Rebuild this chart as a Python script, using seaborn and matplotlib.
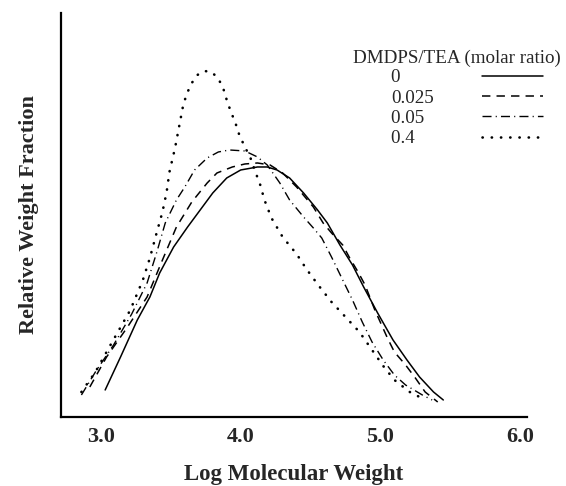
import matplotlib
matplotlib.use("Agg")
import matplotlib.pyplot as plt
import seaborn as sns
import pandas as pd

# ── dati (asse y in unità relative, senza scala) ───────────────────────────
ratio_labels = ["0", "0.025", "0.05", "0.4"]
legend_title = "DMDPS/TEA (molar ratio)"

logmw_0 = [3.03, 3.14, 3.26, 3.35, 3.42, 3.52, 3.62, 3.71, 3.80, 3.90, 4.00,
           4.12, 4.19, 4.26, 4.35, 4.45, 4.55, 4.62, 4.71, 4.80, 4.88, 4.98,
           5.09, 5.19, 5.28, 5.38, 5.45]
wf_0 = [0.27, 0.60, 0.97, 1.20, 1.44, 1.70, 1.90, 2.07, 2.24, 2.39, 2.47,
        2.50, 2.50, 2.47, 2.39, 2.24, 2.07, 1.94, 1.72, 1.52, 1.30, 1.04,
        0.77, 0.57, 0.40, 0.25, 0.17]

logmw_0025 = [2.92, 3.04, 3.19, 3.33, 3.44, 3.54, 3.65, 3.76, 3.83, 3.94,
              4.03, 4.12, 4.21, 4.30, 4.40, 4.52, 4.59, 4.65, 4.73, 4.78,
              4.84, 4.89, 4.96, 5.05, 5.10, 5.18, 5.25, 5.32, 5.41]
wf_0025 = [0.30, 0.60, 0.90, 1.20, 1.57, 1.90, 2.15, 2.34, 2.44, 2.50,
           2.53, 2.54, 2.52, 2.44, 2.30, 2.10, 1.94, 1.84, 1.72, 1.59,
           1.45, 1.32, 1.07, 0.79, 0.65, 0.52, 0.39, 0.25, 0.15]

logmw_005 = [2.86, 2.96, 3.09, 3.22, 3.33, 3.40, 3.46, 3.54, 3.60, 3.67,
             3.76, 3.84, 3.92, 4.03, 4.12, 4.19, 4.28, 4.35, 4.45, 4.52,
             4.58, 4.65, 4.73, 4.80, 4.87, 4.94, 5.02, 5.10, 5.18, 5.30, 5.37]
wf_005 = [0.22, 0.45, 0.72, 1.03, 1.34, 1.65, 1.94, 2.17, 2.30, 2.47,
          2.59, 2.65, 2.67, 2.66, 2.60, 2.52, 2.34, 2.17, 2.00, 1.89,
          1.79, 1.60, 1.37, 1.17, 0.95, 0.75, 0.57, 0.42, 0.32, 0.22, 0.17]

logmw_04 = [2.86, 2.96, 3.06, 3.21, 3.30, 3.35, 3.40, 3.44, 3.47, 3.49,
            3.53, 3.56, 3.59, 3.62, 3.65, 3.69, 3.74, 3.79, 3.83, 3.87,
            3.90, 3.93, 3.96, 3.99, 4.03, 4.07, 4.10, 4.14, 4.17, 4.22,
            4.30, 4.40, 4.47, 4.56, 4.65, 4.75, 4.85, 4.93, 5.02, 5.10,
            5.21, 5.28]
wf_04 = [0.25, 0.45, 0.70, 1.07, 1.37, 1.59, 1.85, 2.05, 2.25, 2.45,
         2.69, 2.91, 3.13, 3.25, 3.34, 3.42, 3.46, 3.45, 3.40, 3.31,
         3.17, 3.05, 2.95, 2.82, 2.70, 2.59, 2.47, 2.32, 2.17, 1.99,
         1.80, 1.63, 1.48, 1.31, 1.15, 1.00, 0.85, 0.69, 0.51, 0.37,
         0.25, 0.20]

xticks = [3.0, 4.0, 5.0, 6.0]

# ── stile ────────────────────────────────────────────────────────────────
sns.set_style("white")
plt.rcParams["font.family"] = ["Liberation Serif", "DejaVu Serif"]

styles = [
    dict(linestyle="-", linewidth=1.1),
    dict(linestyle=(0, (5.5, 4.0)), linewidth=1.1),
    dict(linestyle=(0, (6.5, 3.0, 0.8, 3.0)), linewidth=1.0),
    dict(linestyle=(0, (0.1, 3.4)), linewidth=1.9, dash_capstyle="round"),
]

series = [(logmw_0, wf_0), (logmw_0025, wf_0025),
          (logmw_005, wf_005), (logmw_04, wf_04)]

fig = plt.figure(figsize=(5.66, 4.86), dpi=100)
ax = fig.add_axes([0.1078, 0.142, 0.8233, 0.8313])

handles = []
for (xs, ys), lab, st in zip(series, ratio_labels, styles):
    d = pd.DataFrame({"logmw": xs, "wf": ys})
    sns.lineplot(data=d, x="logmw", y="wf", ax=ax, color="black",
                 estimator=None, sort=False, **st)
    handles.append(ax.lines[-1])

ax.set_xlim(2.714, 6.049)
ax.set_ylim(0, 4.04)
ax.set_xticks(xticks)
ax.set_xticklabels([f"{t:.1f}" for t in xticks], fontsize=16, fontweight="bold")
ax.set_yticks([])
ax.tick_params(axis="x", length=0, pad=7)

sns.despine(ax=ax)
for s in ("left", "bottom"):
    ax.spines[s].set_linewidth(1.6)
    ax.spines[s].set_color("black")

ax.set_xlabel("Log Molecular Weight", fontsize=16.5, fontweight="bold", labelpad=12.5)
ax.set_ylabel("Relative Weight Fraction", fontsize=16, fontweight="bold", labelpad=16)

# etichette con spazi finali per allinearle a sinistra
pad_labels = []
for l in ratio_labels:
    n_dig = sum(c.isdigit() for c in l)
    n_dot = l.count(".")
    em_missing = 2.25 - (0.5 * n_dig + 0.25 * n_dot)
    pad_labels.append(l + " " * int(round(em_missing / 0.25)))

# titolo della legenda come testo separato (è spostato a sinistra rispetto alle voci)
fig.text(353 / 566, 1 - 58 / 486, legend_title, fontsize=13.7,
         ha="left", va="center")
leg = ax.legend(handles, pad_labels,
                markerfirst=False, frameon=False, loc="upper left",
                bbox_to_anchor=(391 / 566, 1 - 69 / 486),
                bbox_transform=fig.transFigure,
                fontsize=13.7,
                handlelength=3.2, handletextpad=2.55, labelspacing=0.16,
                borderpad=0, borderaxespad=0)

fig.savefig("out.png", dpi=100)
